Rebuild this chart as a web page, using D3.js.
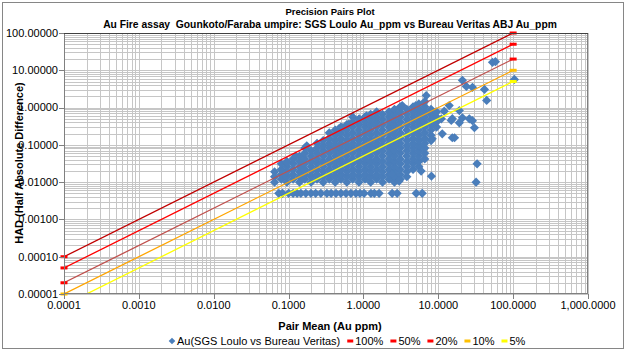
<!DOCTYPE html>
<html>
<head>
<meta charset="utf-8">
<script src="https://cdn.jsdelivr.net/npm/d3@7"></script>
<style>
  body { margin: 0; background: #fff; }
  text { font-family: "Liberation Sans", Arial, sans-serif; fill: #000; white-space: pre; }
</style>
</head>
<body>
<script>
// axis ticks
var xTicks = [0.0001, 0.001, 0.01, 0.1, 1, 10, 100, 1000];
var yTicks = [0.00001, 0.0001, 0.001, 0.01, 0.1, 1, 10, 100];

// precision lines (HAD at pair mean 0.0001 and 100)
var pctNames = ["100%", "50%", "20%", "10%", "5%"];
var pctLine = ["#C00000", "#FF0000", "#C0504D", "#FFA500", "#FFFF00"];
var pctMark = ["#FF0000", "#FF0000", "#FF0000", "#FFC000", "#FFFF00"];
var lineMean = [0.0001, 100];
var lineHad = [[0.0001, 100], [0.00005, 50], [0.00002, 20], [0.00001, 10], [0.000005, 5]];

// pair mean vs HAD, read column by column off the dense cloud
var cloudCols = [
  [0.065, [0.01, 0.014, 0.019]],
  [0.08,  [0.012, 0.016, 0.022, 0.031]],
  [0.095, [0.01, 0.014, 0.019, 0.026, 0.036]],
  [0.115, [0.012, 0.016, 0.022, 0.031, 0.042]],
  [0.14,  [0.01, 0.014, 0.019, 0.026, 0.036, 0.05]],
  [0.165, [0.012, 0.016, 0.022, 0.031, 0.042, 0.06, 0.082]],
  [0.2,   [0.01, 0.014, 0.019, 0.026, 0.036, 0.05, 0.07]],
  [0.24,  [0.012, 0.016, 0.022, 0.031, 0.042, 0.06, 0.082, 0.11]],
  [0.29,  [0.01, 0.014, 0.019, 0.026, 0.036, 0.05, 0.07, 0.095, 0.13]],
  [0.35,  [0.012, 0.016, 0.022, 0.031, 0.042, 0.06, 0.082, 0.11, 0.15, 0.21]],
  [0.42,  [0.01, 0.014, 0.019, 0.026, 0.036, 0.05, 0.07, 0.095, 0.13, 0.18, 0.25]],
  [0.5,   [0.012, 0.016, 0.022, 0.031, 0.042, 0.06, 0.082, 0.11, 0.15, 0.21, 0.3]],
  [0.6,   [0.01, 0.014, 0.019, 0.026, 0.036, 0.05, 0.07, 0.095, 0.13, 0.18, 0.25, 0.35]],
  [0.72,  [0.012, 0.016, 0.022, 0.031, 0.042, 0.06, 0.082, 0.11, 0.15, 0.21, 0.3, 0.41, 0.56]],
  [0.87,  [0.01, 0.014, 0.019, 0.026, 0.036, 0.05, 0.07, 0.095, 0.13, 0.18, 0.25, 0.35, 0.48]],
  [1.05,  [0.012, 0.016, 0.022, 0.031, 0.042, 0.06, 0.082, 0.11, 0.15, 0.21, 0.3, 0.41, 0.56]],
  [1.25,  [0.01, 0.014, 0.019, 0.026, 0.036, 0.05, 0.07, 0.095, 0.13, 0.18, 0.25, 0.35, 0.48, 0.66]],
  [1.5,   [0.012, 0.016, 0.022, 0.031, 0.042, 0.06, 0.082, 0.11, 0.15, 0.21, 0.3, 0.41, 0.56, 0.77]],
  [1.8,   [0.01, 0.014, 0.019, 0.026, 0.036, 0.05, 0.07, 0.095, 0.13, 0.18, 0.25, 0.35, 0.48, 0.66]],
  [2.2,   [0.012, 0.016, 0.022, 0.031, 0.042, 0.06, 0.082, 0.11, 0.15, 0.21, 0.3, 0.41, 0.56, 0.77]],
  [2.6,   [0.01, 0.014, 0.019, 0.026, 0.036, 0.05, 0.07, 0.095, 0.13, 0.18, 0.25, 0.35, 0.48, 0.66, 0.9]],
  [3.1,   [0.012, 0.016, 0.022, 0.031, 0.042, 0.06, 0.082, 0.11, 0.15, 0.21, 0.3, 0.41, 0.56, 0.77, 1.05]],
  [3.8,   [0.014, 0.019, 0.026, 0.036, 0.05, 0.07, 0.095, 0.13, 0.18, 0.25, 0.35, 0.48, 0.66, 0.9]],
  [4.6,   [0.022, 0.031, 0.042, 0.06, 0.082, 0.11, 0.15, 0.21, 0.3, 0.41, 0.56, 0.77, 1.05]],
  [5.5,   [0.026, 0.036, 0.05, 0.07, 0.095, 0.13, 0.18, 0.25, 0.35, 0.48, 0.66, 0.9, 1.25]],
  [6.6,   [0.042, 0.06, 0.082, 0.11, 0.15, 0.21, 0.3, 0.41, 0.56, 0.77, 1.05, 1.45]],
  [8,     [0.13, 0.18, 0.25, 0.35, 0.48, 0.66, 0.9]],
  [9.5,   [0.3, 0.41, 0.56, 0.77]]
];

// pairs sitting on the 0.005 HAD floor
var floorHad = 0.005;
var floorMeans = [0.074, 0.083, 0.1, 0.115, 0.13, 0.146, 0.17, 0.199, 0.23, 0.27, 0.325, 0.37,
  0.43, 0.5, 0.585, 0.68, 0.794, 0.9, 1.02, 1.26, 1.4, 1.62, 2.42, 2.82, 5.07, 6.1];

// scattered pairs outside the cloud
var loosePairs = [
  [0.095, 0.033], [0.125, 0.05], [0.175, 0.094], [0.47, 0.27], [0.52, 0.29], [0.64, 0.36],
  [0.88, 0.5], [1.1, 0.6], [3.3, 1.13], [5, 1.13], [6.9, 2.1],
  [2.4, 0.0163], [3.0, 0.0107], [5.9, 0.0198], [8.1, 0.0145], [8.3, 0.145],
  [11, 0.5], [12, 0.8], [11.3, 0.198], [14, 1.13], [14.9, 0.45], [15.4, 0.505], [15.4, 0.155],
  [16.5, 0.155], [19.1, 0.83], [19.1, 0.39], [21, 0.53], [26, 0.5], [28.6, 0.446], [30.4, 0.288],
  [21, 5.37], [23.7, 3.7], [28.6, 3.5], [41.4, 3.06], [44.3, 1.55], [53, 16.4], [58, 17],
  [104, 5.7], [33, 0.031], [32, 0.01]
];

var W = 626, H = 353;
var plot = {left: 64, right: 588, top: 33, bottom: 294};

var svg = d3.select("body").append("svg")
    .attr("width", W)
    .attr("height", H);

// chart frame
svg.append("rect")
    .attr("x", 2.5).attr("y", 2.5)
    .attr("width", 621).attr("height", 346)
    .attr("fill", "#fff")
    .attr("stroke", "#868686");

var x = d3.scaleLog().domain([0.0001, 1000]).range([plot.left, plot.right]);
var y = d3.scaleLog().domain([0.00001, 100]).range([plot.bottom, plot.top]);

// minor + major gridlines
var xGrid = [], yGrid = [];
xTicks.slice(0, -1).forEach(function(t) { for (var k = 1; k < 10; k++) xGrid.push(t * k); });
xGrid.push(1000);
yTicks.slice(0, -1).forEach(function(t) { for (var k = 1; k < 10; k++) yGrid.push(t * k); });
yGrid.push(100);

var grid = svg.append("g").attr("stroke", "#C6C6C6").attr("stroke-width", 1).attr("shape-rendering", "crispEdges");
grid.selectAll(".gx").data(xGrid).enter().append("line")
    .attr("x1", d => Math.round(x(d)) + 0.5).attr("x2", d => Math.round(x(d)) + 0.5)
    .attr("y1", plot.top).attr("y2", plot.bottom);
grid.selectAll(".gy").data(yGrid).enter().append("line")
    .attr("x1", plot.left).attr("x2", plot.right)
    .attr("y1", d => Math.round(y(d)) + 0.5).attr("y2", d => Math.round(y(d)) + 0.5);

svg.append("defs").append("clipPath").attr("id", "clip")
  .append("rect")
    .attr("x", plot.left).attr("y", plot.top)
    .attr("width", plot.right - plot.left).attr("height", plot.bottom - plot.top);

// scatter points
var points = [];
cloudCols.forEach(function(c) { c[1].forEach(function(h) { points.push([c[0], h]); }); });
floorMeans.forEach(function(m) { points.push([m, floorHad]); });
loosePairs.forEach(function(p) { points.push(p); });

var diamond = "M0,-4.6L4.6,0L0,4.6L-4.6,0Z";
svg.append("g").attr("clip-path", "url(#clip)")
  .selectAll("path").data(points).enter().append("path")
    .attr("d", diamond)
    .attr("transform", d => "translate(" + x(d[0]) + "," + y(d[1]) + ")")
    .attr("fill", "#4A7EBB");

// precision lines with end markers
var lines = svg.append("g").attr("clip-path", "url(#clip)");
pctNames.forEach(function(name, i) {
  var pts = lineMean.map((m, j) => [m, lineHad[i][j]]);
  lines.append("path")
      .attr("d", d3.line().x(d => x(d[0])).y(d => y(d[1]))(pts))
      .attr("fill", "none")
      .attr("stroke", pctLine[i])
      .attr("stroke-width", 1.3);
});
var marks = svg.append("g");
pctNames.forEach(function(name, i) {
  lineMean.forEach(function(m, j) {
    var h = lineHad[i][j];
    if (h < 0.00001) return;
    marks.append("rect")
        .attr("x", x(m) - 3.5).attr("y", y(h) - 1.5)
        .attr("width", 7).attr("height", 3)
        .attr("fill", pctMark[i]);
  });
});

// plot border and axes
svg.append("rect")
    .attr("x", plot.left + 0.5).attr("y", plot.top + 0.5)
    .attr("width", plot.right - plot.left - 1).attr("height", plot.bottom - plot.top - 1)
    .attr("fill", "none").attr("stroke", "#808080").attr("shape-rendering", "crispEdges");
svg.append("line")
    .attr("x1", plot.left).attr("x2", plot.right)
    .attr("y1", plot.top + 0.5).attr("y2", plot.top + 0.5)
    .attr("stroke", "#404040");

var fx = d3.format(",.4f"), fy = d3.format(".5f");
var axes = svg.append("g").attr("font-size", 11);
axes.selectAll(".ty").data(yTicks).enter().append("line")
    .attr("x1", plot.left - 5).attr("x2", plot.left)
    .attr("y1", d => Math.round(y(d)) + 0.5).attr("y2", d => Math.round(y(d)) + 0.5)
    .attr("stroke", "#808080");
axes.selectAll(".ly").data(yTicks).enter().append("text")
    .attr("x", plot.left - 6).attr("y", d => y(d)).attr("dy", "0.35em")
    .attr("text-anchor", "end")
    .text(d => fy(d));
axes.selectAll(".tx").data(xTicks).enter().append("line")
    .attr("x1", d => Math.round(x(d)) + 0.5).attr("x2", d => Math.round(x(d)) + 0.5)
    .attr("y1", plot.bottom).attr("y2", plot.bottom + 5)
    .attr("stroke", "#808080");
axes.selectAll(".lx").data(xTicks).enter().append("text")
    .attr("x", d => x(d)).attr("y", plot.bottom + 15)
    .attr("text-anchor", "middle")
    .text(d => fx(d));

// titles
svg.append("text").attr("x", 330).attr("y", 15).attr("text-anchor", "middle")
    .attr("font-size", 9.5).attr("font-weight", "bold").text("Precision Pairs Plot");
svg.append("text").attr("x", 330).attr("y", 28).attr("text-anchor", "middle")
    .attr("font-size", 10.3).attr("font-weight", "bold")
    .text("Au Fire assay  Gounkoto/Faraba umpire: SGS Loulo Au_ppm vs Bureau Veritas ABJ Au_ppm");
svg.append("text").attr("x", 330).attr("y", 330).attr("text-anchor", "middle")
    .attr("font-size", 11).attr("font-weight", "bold").text("Pair Mean (Au ppm)");
svg.append("text")
    .attr("transform", "translate(23,163) rotate(-90)")
    .attr("text-anchor", "middle")
    .attr("font-size", 11).attr("font-weight", "bold").text("HAD (Half Absolute Difference)");

// legend
var leg = svg.append("g").attr("font-size", 11);
var lx = 172, ly = 341;
leg.append("path").attr("d", "M0,-3.3L3.3,0L0,3.3L-3.3,0Z")
    .attr("transform", "translate(" + lx + "," + ly + ")").attr("fill", "#4A7EBB");
var t0 = leg.append("text").attr("x", lx + 5).attr("y", ly).attr("dy", "0.35em")
    .text("Au(SGS Loulo vs Bureau Veritas)");
lx = lx + 5 + t0.node().getComputedTextLength() + 7;
pctNames.forEach(function(name, i) {
  leg.append("rect").attr("x", lx).attr("y", ly - 1.5).attr("width", 6).attr("height", 3)
      .attr("fill", pctMark[i]);
  var t = leg.append("text").attr("x", lx + 8).attr("y", ly).attr("dy", "0.35em").text(name);
  lx = lx + 8 + t.node().getComputedTextLength() + 7;
});
</script>
</body>
</html>
